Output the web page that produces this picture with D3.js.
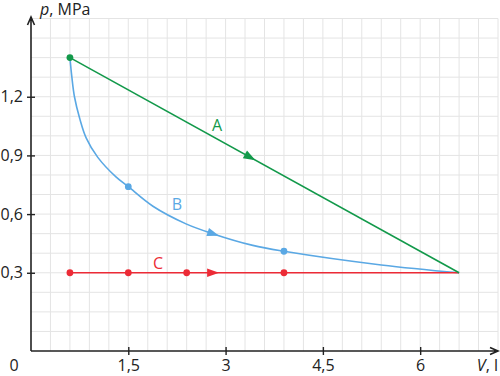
<!DOCTYPE html>
<html>
  <head>
    <meta charset="UTF-8" />
    <script src="https://d3js.org/d3.v7.min.js"></script>
    <style>
      body { margin: 0; background: #fff; }
      text { font-family: "Open Sans", sans-serif; }
    </style>
  </head>
  <body>
    <div id="chart"></div>

    <script>
      var width = 500, height = 376;

      // process A (straight line)
      var aV = [0.6, 6.6];
      var aP = [1.4, 0.3];
      var aDots = [0.6];
      // process B (curve)
      var bV = [0.6, 0.63, 0.67, 0.75, 0.85, 1.03, 1.31, 1.5, 1.88, 2.39, 2.8, 3.42, 3.9, 5.4, 6.6];
      var bP = [1.4, 1.3, 1.2, 1.09, 0.99, 0.89, 0.79, 0.74, 0.64, 0.55, 0.5, 0.44, 0.41, 0.34, 0.3];
      var bDots = [1.5, 3.9];
      // process C (isobar)
      var cV = [0.6, 6.6];
      var cP = [0.3, 0.3];
      var cDots = [0.6, 1.5, 2.4, 3.9];

      var xTicks = [1.5, 3, 4.5, 6];
      var yTicks = [0.3, 0.6, 0.9, 1.2];

      var green = "#12994a", blue = "#5aa8e4", red = "#ec2b36";
      var fs = 16;

      var svg = d3
        .select("#chart")
        .append("svg")
        .attr("width", width)
        .attr("height", height);

      var x = d3.scaleLinear().domain([0, 7.2]).range([31, 498]);
      var y = d3.scaleLinear().domain([-0.1, 1.6]).range([351, 18.5]);

      // grid
      var grid = svg.append("g").attr("stroke", "#e4e4e4").attr("stroke-width", 1);
      d3.range(1, 25).forEach(function (k) {
        var xv = x(k * 0.3);
        grid.append("line").attr("x1", xv).attr("x2", xv)
          .attr("y1", y(-0.1)).attr("y2", y(1.6));
      });
      d3.range(0, 17).forEach(function (k) {
        var yv = y(k * 0.1);
        grid.append("line").attr("x1", x(0)).attr("x2", x(7.2))
          .attr("y1", yv).attr("y2", yv);
      });

      var fmt = function (d) { return String(d).replace(".", ","); };

      // axes
      var yAxis = svg.append("g")
        .attr("transform", "translate(" + x(0) + ",0)")
        .call(d3.axisLeft(y).tickValues(yTicks).tickSize(4).tickPadding(4).tickFormat(fmt));
      var xAxis = svg.append("g")
        .attr("transform", "translate(0," + y(-0.1) + ")")
        .call(d3.axisBottom(x).tickValues(xTicks).tickSize(4).tickPadding(5).tickFormat(fmt));
      [yAxis, xAxis].forEach(function (ax) {
        ax.select(".domain").remove();
        ax.selectAll("line").attr("stroke", "#222").attr("stroke-width", 1.4);
        ax.selectAll("text").attr("font-size", fs).attr("fill", "#222")
          .attr("font-family", '"Open Sans", sans-serif');
      });
      yAxis.selectAll("line").attr("x1", 4);
      xAxis.selectAll("line").attr("y1", -4);

      var ax = svg.append("g").attr("stroke", "#222").attr("stroke-width", 1.6)
        .attr("fill", "none");
      ax.append("path").attr("d",
        "M" + x(0) + "," + y(-0.1) + "V17" +
        "M" + (x(0) - 3.5) + ",25L" + x(0) + ",17L" + (x(0) + 3.5) + ",25");
      ax.append("path").attr("d",
        "M" + x(0) + "," + y(-0.1) + "H498" +
        "M490," + (y(-0.1) - 3.5) + "L498," + y(-0.1) + "L490," + (y(-0.1) + 3.5));

      svg.append("text").attr("x", 40).attr("y", 15).attr("font-size", fs).attr("fill", "#222")
        .html('<tspan font-style="italic">p</tspan>, MPa');
      svg.append("text").attr("x", 498).attr("y", 371).attr("text-anchor", "end")
        .attr("font-size", fs).attr("fill", "#222")
        .html('<tspan font-style="italic">V</tspan>, l');
      svg.append("text").attr("x", 14).attr("y", 371).attr("text-anchor", "middle")
        .attr("font-size", fs).attr("fill", "#222").text("0");

      // processes
      var line = d3.line().x(function (d) { return x(d[0]); }).y(function (d) { return y(d[1]); });
      var curve = d3.line().curve(d3.curveCatmullRom.alpha(0.5))
        .x(function (d) { return x(d[0]); }).y(function (d) { return y(d[1]); });

      var series = [
        { v: bV, p: bP, dots: bDots, color: blue, gen: curve, tip: 2.9, name: "B", lx: 177, ly: 210 },
        { v: cV, p: cP, dots: cDots, color: red, gen: line, tip: 2.9, name: "C", lx: 158, ly: 269 },
        { v: aV, p: aP, dots: aDots, color: green, gen: line, tip: 3.46, name: "A", lx: 217, ly: 131 }
      ];

      series.forEach(function (s) {
        var pts = s.v.map(function (v, i) { return [v, s.p[i]]; });
        var path = svg.append("path").attr("d", s.gen(pts)).attr("fill", "none")
          .attr("stroke", s.color).attr("stroke-width", 1.6);
        var node = path.node();

        // arrow along the path
        var tx = x(s.tip), lo = 0, hi = node.getTotalLength();
        for (var i = 0; i < 40; i++) {
          var mid = (lo + hi) / 2;
          if (node.getPointAtLength(mid).x < tx) lo = mid; else hi = mid;
        }
        var tip = node.getPointAtLength(lo);
        var back = node.getPointAtLength(Math.max(0, lo - 12));
        var ang = Math.atan2(tip.y - back.y, tip.x - back.x) * 180 / Math.PI;
        svg.append("path").attr("d", "M0,0L-12,-4.3L-12,4.3Z")
          .attr("transform", "translate(" + tip.x + "," + tip.y + ") rotate(" + ang + ")")
          .attr("fill", s.color);

        // marked states
        svg.selectAll(null).data(s.dots).enter().append("circle")
          .attr("cx", function (d) { return x(d); })
          .attr("cy", function (d) {
            var i = s.v.indexOf(d);
            return i >= 0 ? y(s.p[i]) : y(s.p[0]);
          })
          .attr("r", 3.4).attr("fill", s.color);

        svg.append("text").attr("x", s.lx).attr("y", s.ly).attr("text-anchor", "middle")
          .attr("font-size", fs).attr("fill", s.color).text(s.name);
      });
    </script>
  </body>
</html>
